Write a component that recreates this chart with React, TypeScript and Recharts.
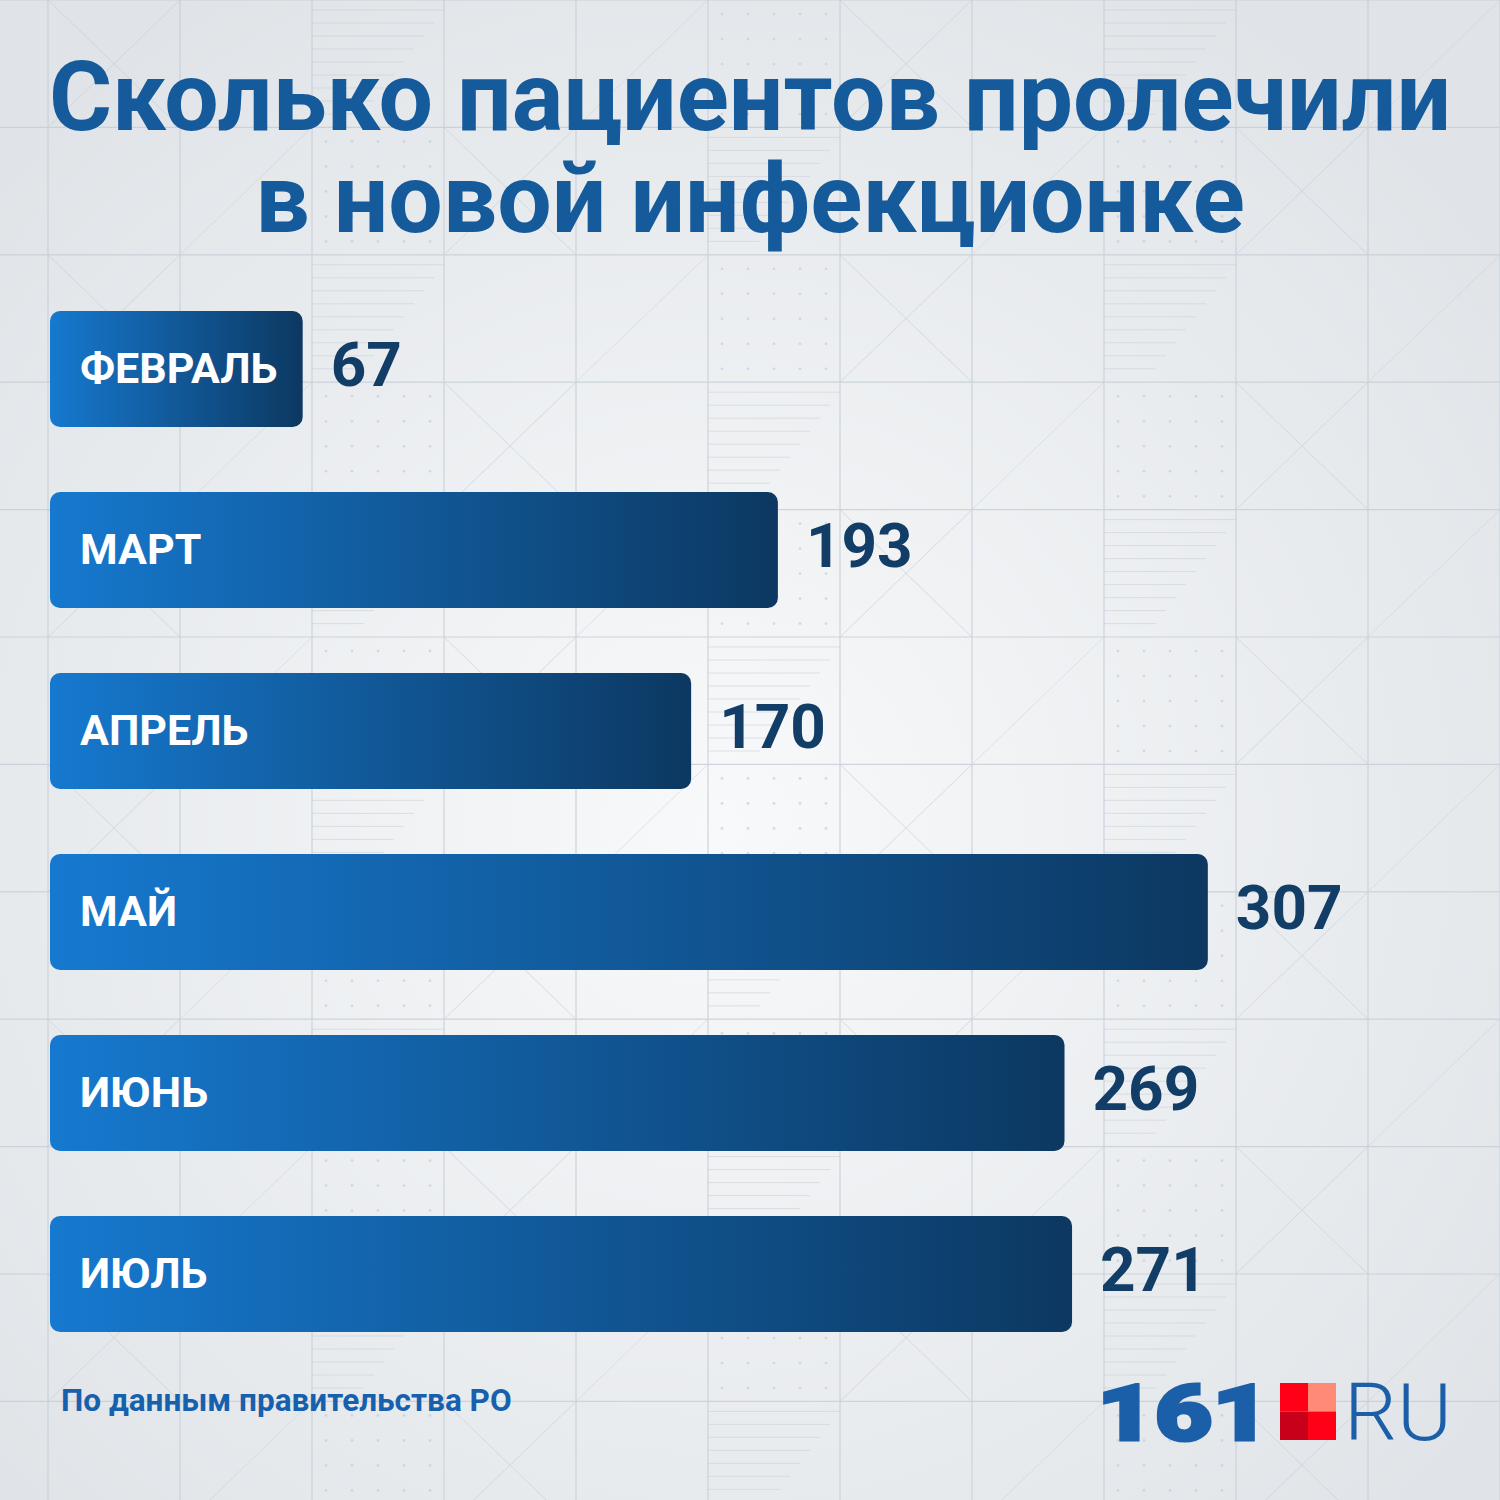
import React from "react";
import { BarChart, Bar, XAxis, YAxis, LabelList } from "recharts";

const months = ["ФЕВРАЛЬ", "МАРТ", "АПРЕЛЬ", "МАЙ", "ИЮНЬ", "ИЮЛЬ"];
const patients = [67, 193, 170, 307, 269, 271];

const titleLines = ["Сколько пациентов пролечили", "в новой инфекционке"];
const sourceNote = "По данным правительства РО";

const data = months.map((month, i) => ({ month, value: patients[i] }));

const FONT = "Roboto, 'Noto Sans', 'DejaVu Sans', sans-serif";
const TITLE_BLUE = "#155a9a";
const VALUE_NAVY = "#113d66";
const GRID = "#c5cdd7";

// decorative backdrop: square grid with a few line motifs
function Backdrop() {
  const cols = Array.from({ length: 12 }, (_, k) => 48 + k * 132);
  const rows = Array.from({ length: 12 }, (_, k) => k * 127.4);
  const cells: React.ReactNode[] = [];
  cols.forEach((cx, i) =>
    rows.forEach((cy, j) => {
      const key = `${i}-${j}`;
      const w = 132;
      const h = 127.4;
      const kind = (i * 7 + j * 3) % 6;
      if (kind === 0) {
        cells.push(
          <g key={key} stroke={GRID} strokeWidth={1} opacity={0.6}>
            <line x1={cx} y1={cy} x2={cx + w} y2={cy + h} />
            <line x1={cx + w} y1={cy} x2={cx} y2={cy + h} />
          </g>
        );
      } else if (kind === 2) {
        cells.push(
          <g key={key} stroke={GRID} strokeWidth={1} opacity={0.5}>
            {Array.from({ length: 9 }, (_, n) => (
              <line key={n} x1={cx} y1={cy + 10 + n * 13} x2={cx + w - n * 10} y2={cy + 10 + n * 13} />
            ))}
          </g>
        );
      } else if (kind === 4) {
        cells.push(
          <g key={key} stroke={GRID} strokeWidth={1} opacity={0.45}>
            <line x1={cx} y1={cy + h} x2={cx + w} y2={cy} />
          </g>
        );
      } else if (kind === 5) {
        cells.push(
          <g key={key} fill={GRID} opacity={0.7}>
            {Array.from({ length: 25 }, (_, n) => (
              <circle key={n} cx={cx + 14 + (n % 5) * 26} cy={cy + 14 + Math.floor(n / 5) * 25} r={1.3} />
            ))}
          </g>
        );
      }
    })
  );
  return (
    <svg width={1500} height={1500} style={{ position: "absolute", left: 0, top: 0 }}>
      <defs>
        <radialGradient id="bgGlow" cx="48%" cy="55%" r="65%">
          <stop offset="0%" stopColor="#f8f9fa" />
          <stop offset="100%" stopColor="#e0e4e8" />
        </radialGradient>
      </defs>
      <rect width={1500} height={1500} fill="url(#bgGlow)" />
      {cells}
      <g stroke={GRID} strokeWidth={1.2} opacity={0.8}>
        {cols.map((x) => (
          <line key={`c${x}`} x1={x} y1={0} x2={x} y2={1500} />
        ))}
        {rows.map((y) => (
          <line key={`r${y}`} x1={0} y1={y} x2={1500} y2={y} />
        ))}
      </g>
    </svg>
  );
}

const MonthLabel = (props: any) => {
  const vb = props.viewBox || props;
  const x = Number(vb.x);
  const y = Number(vb.y);
  const h = Number(vb.height);
  return (
    <text x={x + 30} y={y + h / 2 + 14} fill="#ffffff" fontSize={43} fontWeight={700} fontFamily={FONT}>
      {props.value}
    </text>
  );
};

const ValueLabel = (props: any) => {
  const vb = props.viewBox || props;
  const x = Number(vb.x);
  const y = Number(vb.y);
  const w = Number(vb.width);
  const h = Number(vb.height);
  return (
    <text x={x + w + 28} y={y + h / 2 + 17} fill={VALUE_NAVY} fontSize={62} fontWeight={700} fontFamily={FONT}>
      {props.value}
    </text>
  );
};

function Overlay() {
  return (
    <svg width={1500} height={1500} style={{ position: "absolute", left: 0, top: 0, pointerEvents: "none" }}>
      {titleLines.map((line, i) => (
        <text
          key={line}
          x={750}
          y={130 + i * 102}
          textAnchor="middle"
          fill={TITLE_BLUE}
          fontSize={96.5}
          fontWeight={700}
          fontFamily={FONT}
        >
          {line}
        </text>
      ))}
      <text x={61} y={1411} fill="#1760ad" fontSize={31.5} fontWeight={700} fontFamily={FONT}>
        {sourceNote}
      </text>
      {/* 161.RU logo */}
      <text
        x={1097}
        y={1440}
        fill="#1a5fa8"
        fontSize={77}
        fontWeight={900}
        fontFamily={FONT}
        stroke="#1a5fa8"
        strokeWidth={3}
        textLength={173}
        lengthAdjust="spacingAndGlyphs"
      >
        161
      </text>
      <rect x={1280} y={1383} width={28} height={28.5} fill="#ff0016" />
      <rect x={1308} y={1383} width={28} height={28.5} fill="#ff8a78" />
      <rect x={1280} y={1411.5} width={28} height={28.5} fill="#c8001a" />
      <rect x={1308} y={1411.5} width={28} height={28.5} fill="#ff0016" />
      <text
        x={1344}
        y={1440}
        fill="#1a5fa8"
        fontSize={80}
        fontWeight={300}
        fontFamily={FONT}
        textLength={108}
        lengthAdjust="spacingAndGlyphs"
      >
        RU
      </text>
    </svg>
  );
}

export default function App() {
  return (
    <div style={{ position: "absolute", left: 0, top: 0, width: 1500, height: 1500, overflow: "hidden" }}>
      <Backdrop />
      <div style={{ position: "absolute", left: 0, top: 0 }}>
        <BarChart
          width={1500}
          height={1500}
          data={data}
          layout="vertical"
          margin={{ top: 278, right: 130, bottom: 136, left: 50 }}
        >
          <defs>
            <linearGradient id="barGrad" x1="0" y1="0" x2="1" y2="0">
              <stop offset="0%" stopColor="#1679cf" />
              <stop offset="100%" stopColor="#0c3861" />
            </linearGradient>
          </defs>
          <XAxis type="number" domain={[0, 350]} hide />
          <YAxis type="category" dataKey="month" hide />
          <Bar dataKey="value" fill="url(#barGrad)" barSize={116} radius={10} isAnimationActive={false}>
            <LabelList dataKey="month" content={MonthLabel} />
            <LabelList dataKey="value" content={ValueLabel} />
          </Bar>
        </BarChart>
      </div>
      <Overlay />
    </div>
  );
}
